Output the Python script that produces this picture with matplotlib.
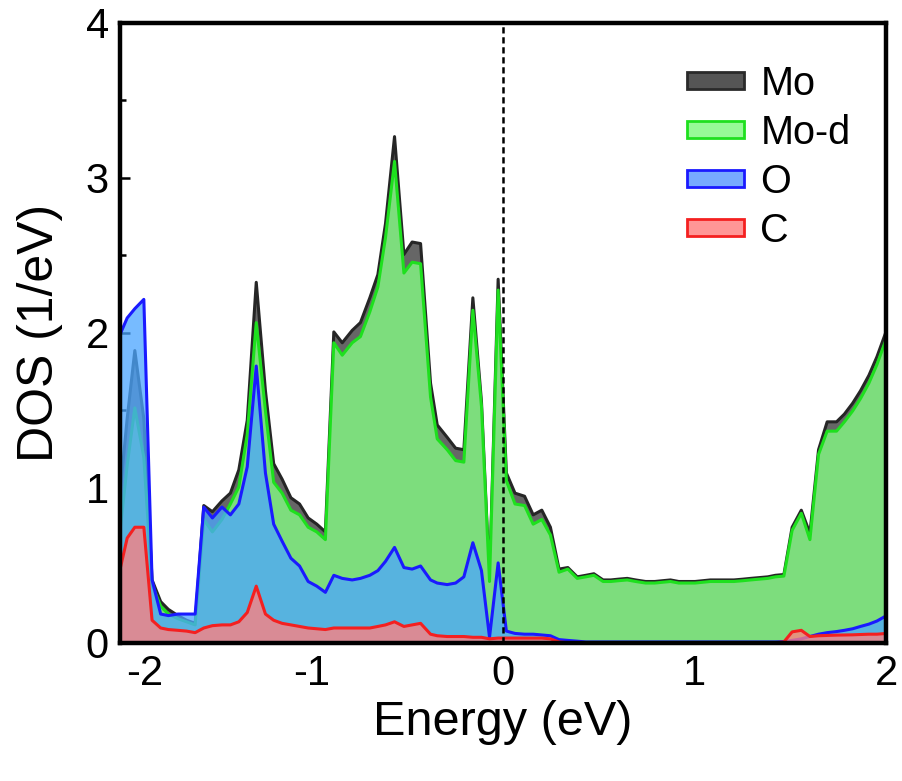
import matplotlib
matplotlib.use("Agg")
import matplotlib.pyplot as plt
import matplotlib.transforms as mtransforms
from matplotlib.patches import Patch

plt.rcParams['font.family'] = ['Liberation Sans', 'DejaVu Sans']
plt.rcParams['axes.unicode_minus'] = False

# Data
energy = [-2.00, -1.965, -1.925, -1.878, -1.835, -1.79, -1.75, -1.70, -1.655, -1.61,
          -1.565, -1.52, -1.47, -1.426, -1.382, -1.338, -1.291, -1.243, -1.20, -1.156,
          -1.11, -1.065, -1.02, -0.975, -0.93, -0.886, -0.842, -0.79, -0.747, -0.698,
          -0.656, -0.616, -0.569, -0.52, -0.477, -0.433, -0.381, -0.346, -0.294, -0.25,
          -0.207, -0.16, -0.115, -0.073, -0.028, 0.015, 0.06, 0.11, 0.155, 0.20,
          0.245, 0.29, 0.336, 0.385, 0.43, 0.472, 0.52, 0.56, 0.60, 0.646,
          0.69, 0.742, 0.79, 0.83, 0.872, 0.915, 0.959, 1.00, 1.04, 1.08,
          1.12, 1.16, 1.203, 1.25, 1.29, 1.335, 1.38, 1.42, 1.464, 1.507,
          1.555, 1.60, 1.645, 1.69, 1.739, 1.78, 1.823, 1.864, 1.908, 1.95,
          2.00]

mo = [1.00, 1.45, 1.89, 1.45, 0.41, 0.27, 0.22, 0.18, 0.15, 0.13,
      0.89, 0.85, 0.92, 0.97, 1.12, 1.44, 2.33, 1.63, 1.16, 1.06,
      0.94, 0.90, 0.81, 0.77, 0.72, 2.01, 1.94, 2.02, 2.07, 2.23,
      2.38, 2.71, 3.27, 2.51, 2.59, 2.58, 1.68, 1.41, 1.33, 1.26,
      1.25, 2.23, 1.56, 0.41, 2.35, 1.10, 0.97, 0.95, 0.83, 0.86,
      0.75, 0.48, 0.49, 0.43, 0.44, 0.45, 0.41, 0.41, 0.415, 0.42,
      0.41, 0.40, 0.40, 0.405, 0.41, 0.40, 0.40, 0.40, 0.405, 0.41,
      0.41, 0.41, 0.41, 0.415, 0.42, 0.425, 0.43, 0.44, 0.445, 0.75,
      0.86, 0.71, 1.25, 1.43, 1.43, 1.48, 1.55, 1.63, 1.73, 1.85,
      2.02]

mo_d = [0.75, 1.15, 1.52, 1.20, 0.38, 0.24, 0.19, 0.16, 0.14, 0.12,
        0.80, 0.72, 0.80, 0.90, 1.01, 1.35, 2.07, 1.50, 1.04, 0.97,
        0.86, 0.83, 0.75, 0.72, 0.67, 1.94, 1.86, 1.94, 1.98, 2.14,
        2.30, 2.62, 3.11, 2.39, 2.46, 2.45, 1.59, 1.32, 1.25, 1.18,
        1.17, 2.15, 1.53, 0.40, 2.28, 1.05, 0.90, 0.89, 0.77, 0.80,
        0.70, 0.46, 0.48, 0.42, 0.43, 0.44, 0.40, 0.40, 0.405, 0.41,
        0.40, 0.39, 0.39, 0.395, 0.40, 0.39, 0.39, 0.39, 0.395, 0.40,
        0.40, 0.40, 0.40, 0.405, 0.41, 0.415, 0.42, 0.43, 0.435, 0.73,
        0.84, 0.67, 1.22, 1.37, 1.37, 1.43, 1.50, 1.58, 1.68, 1.80,
        1.97]

o = [2.00, 2.10, 2.16, 2.22, 0.41, 0.19, 0.18, 0.19, 0.19, 0.19,
     0.88, 0.81, 0.88, 0.83, 0.90, 1.14, 1.79, 1.10, 0.77, 0.66,
     0.55, 0.50, 0.40, 0.37, 0.33, 0.44, 0.42, 0.41, 0.42, 0.44,
     0.47, 0.53, 0.62, 0.49, 0.48, 0.50, 0.41, 0.39, 0.38, 0.39,
     0.43, 0.65, 0.47, 0.04, 0.52, 0.08, 0.065, 0.06, 0.06, 0.055,
     0.05, 0.025, 0.02, 0.015, 0.01, 0.01, 0.01, 0.01, 0.01, 0.01,
     0.01, 0.01, 0.01, 0.01, 0.01, 0.01, 0.01, 0.01, 0.01, 0.01,
     0.01, 0.01, 0.01, 0.01, 0.01, 0.01, 0.01, 0.01, 0.012, 0.02,
     0.03, 0.045, 0.06, 0.07, 0.077, 0.085, 0.095, 0.11, 0.125, 0.145,
     0.18]

c = [0.49, 0.68, 0.75, 0.75, 0.15, 0.10, 0.09, 0.085, 0.08, 0.07,
     0.10, 0.115, 0.12, 0.12, 0.14, 0.20, 0.37, 0.19, 0.15, 0.13,
     0.12, 0.11, 0.10, 0.095, 0.09, 0.10, 0.10, 0.10, 0.10, 0.10,
     0.11, 0.12, 0.14, 0.11, 0.12, 0.13, 0.06, 0.05, 0.045, 0.045,
     0.045, 0.04, 0.04, 0.03, 0.035, 0.035, 0.035, 0.035, 0.035, 0.035,
     0.03, 0.01, 0.005, 0.005, 0.005, 0.005, 0.005, 0.005, 0.005, 0.005,
     0.005, 0.005, 0.005, 0.005, 0.005, 0.005, 0.005, 0.005, 0.005, 0.005,
     0.005, 0.005, 0.005, 0.005, 0.005, 0.005, 0.005, 0.005, 0.01, 0.075,
     0.085, 0.045, 0.05, 0.052, 0.054, 0.055, 0.056, 0.058, 0.06, 0.06,
     0.065]

labels = ['Mo', 'Mo-d', 'O', 'C']

fig = plt.figure(figsize=(9.02, 7.81), dpi=100)
ax = fig.add_axes([0.133, 0.1767, 0.8493, 0.7939])

ax.fill_between(energy, 0, mo, facecolor='#666666', edgecolor='#262626', linewidth=2.2, zorder=1)
ax.fill_between(energy, 0, mo_d, facecolor='#7ddd7d', edgecolor='#1ee01e', linewidth=2.2, zorder=1.1)
ax.fill_between(energy, 0, o, facecolor=(76/255, 166/255, 1.0, 0.76), edgecolor='#1a1aff', linewidth=2.2, zorder=1.2)
ax.fill_between(energy, 0, c, facecolor=(1.0, 0.5, 0.5, 0.78), edgecolor='#f42020', linewidth=2.2, zorder=1.3)

ax.axvline(0, color='black', linestyle=(0, (2.5, 1.5)), linewidth=1.8, zorder=3)

ax.set_xlim(-2, 2)
ax.set_ylim(0, 4)
ax.set_xticks([-2, -1, 0, 1, 2])
ax.set_xticks([-1.5, -0.5, 0.5, 1.5], minor=True)
ax.set_yticks([0, 1, 2, 3, 4])
ax.set_yticks([0.5, 1.5, 2.5, 3.5], minor=True)
ax.set_axisbelow(True)
ax.tick_params(which='both', direction='in', top=False, right=False, width=1.8, labelsize=30)
ax.tick_params(which='major', length=7, pad=8)
ax.tick_params(which='minor', length=4)
for sp in ax.spines.values():
    sp.set_linewidth(3.2)
    sp.set_zorder(4)

# the "-2" label sits a bit to the right in the original, clear of the y "0"
first = ax.get_xticklabels()[0]
first.set_transform(first.get_transform() + mtransforms.ScaledTranslation(18 / 72, 0, fig.dpi_scale_trans))

ax.set_xlabel('Energy (eV)', fontsize=35, labelpad=4)
ax.set_ylabel('DOS (1/eV)', fontsize=36, labelpad=16)

handles = [
    Patch(facecolor='#555555', edgecolor='#2a2a2a', linewidth=2),
    Patch(facecolor='#96fa96', edgecolor='#1ee01e', linewidth=2),
    Patch(facecolor='#77aaff', edgecolor='#1a1aff', linewidth=2),
    Patch(facecolor='#ff9696', edgecolor='#f42020', linewidth=2),
]
ax.legend(handles, labels, loc='upper right', bbox_to_anchor=(1.0, 0.99), frameon=False,
          fontsize=28.5, handlelength=1.45, handleheight=0.3, labelspacing=0.28, handletextpad=0.4)

fig.savefig('out.png', dpi=100)
